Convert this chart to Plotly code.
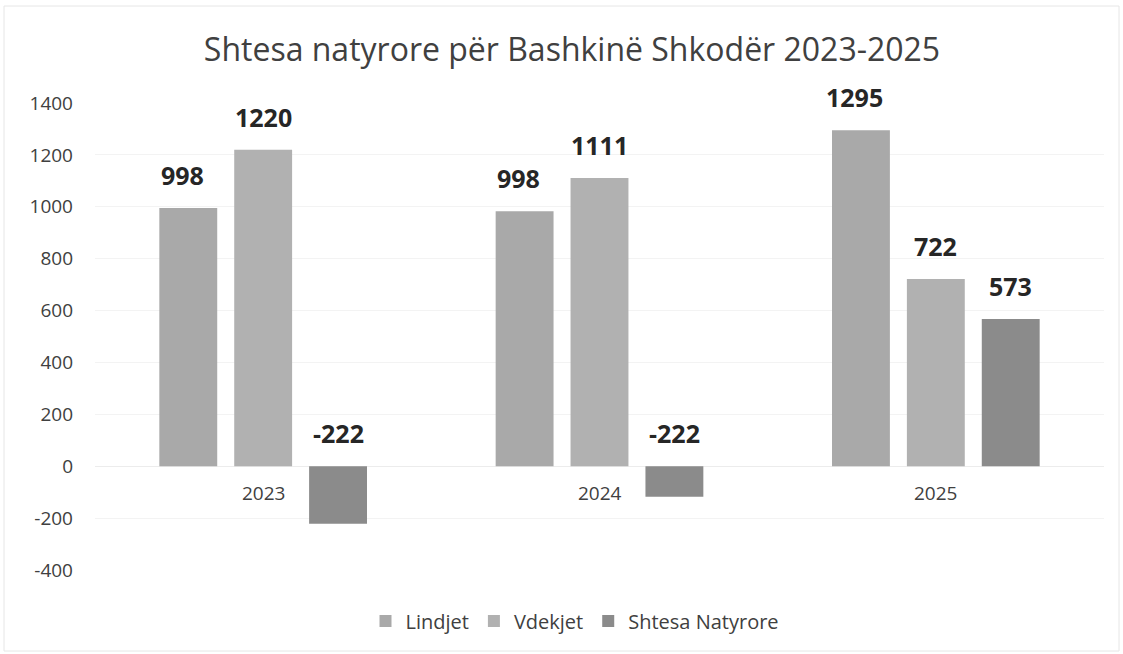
import plotly.graph_objects as go

years = ["2023", "2024", "2025"]
lindjet = [995, 983, 1295]
vdekjet = [1220, 1111, 722]
shtesa = [-222, -118, 567]
lindjet_labels = ["998", "998", "1295"]
vdekjet_labels = ["1220", "1111", "722"]
shtesa_labels = ["-222", "-222", "573"]
y_ticks = [-400, -200, 0, 200, 400, 600, 800, 1000, 1200, 1400]

FONT = "Open Sans"
W, H = 1123, 654
ML, MR, MT, MB = 95, 19, 103, 84
BARGAP = 0.332
GROUPGAP = 0.227

series = [
    ("Lindjet", lindjet, lindjet_labels, "#a9a9a9"),
    ("Vdekjet", vdekjet, vdekjet_labels, "#b1b1b1"),
    ("Shtesa Natyrore", shtesa, shtesa_labels, "#8b8b8b"),
]

fig = go.Figure()
for name, vals, labs, col in series:
    fig.add_trace(go.Bar(name=name, x=years, y=vals, marker=dict(color=col, line=dict(width=0)),
                         hoverinfo="x+y"))

# data labels above bars (or above the zero line for negatives)
group_w = 1 - BARGAP
for si, (name, vals, labs, col) in enumerate(series):
    for ci, (v, lab) in enumerate(zip(vals, labs)):
        xc = ci + (si - 1) * group_w / 3
        fig.add_annotation(x=xc, y=max(v, 0), xref="x", yref="y", text="<b>" + lab + "</b>",
                           showarrow=False, yanchor="bottom", yshift=14,
                           xshift=-6 if si == 0 else 0,
                           font=dict(family=FONT, size=25, color="#262626"))

# category labels next to the zero line
for ci, yr in enumerate(years):
    fig.add_annotation(x=ci, y=0, xref="x", yref="y", text=yr, showarrow=False,
                       yanchor="top", yshift=-12,
                       font=dict(family=FONT, size=19, color="#404040"))

fig.update_layout(
    width=W, height=H,
    margin=dict(l=ML, r=MR, t=MT, b=MB),
    paper_bgcolor="white", plot_bgcolor="white",
    title=dict(text="Shtesa natyrore për Bashkinë Shkodër 2023-2025", x=(572 / W), xanchor="center",
               xref="container", yref="container", y=1 - 50 / H, yanchor="middle",
               font=dict(family=FONT, size=32, color="#404040")),
    barmode="group", bargap=BARGAP, bargroupgap=GROUPGAP,
    showlegend=True,
    legend=dict(orientation="h", x=(575 - ML) / (W - ML - MR), xanchor="center",
                y=-(621 - (H - MB)) / (H - MT - MB),
                yanchor="middle", font=dict(family=FONT, size=20, color="#404040"),
                itemwidth=30, traceorder="normal", bgcolor="rgba(0,0,0,0)"),
    xaxis=dict(type="category", showticklabels=False, showgrid=False, zeroline=False,
               showline=False, ticks="", range=[-0.5, 2.5]),
    yaxis=dict(range=[-400, 1400], tickvals=y_ticks, ticktext=[str(t) for t in y_ticks],
               showgrid=True, gridcolor="#f3f3f3", gridwidth=1, zeroline=True,
               zerolinecolor="#ececec", zerolinewidth=1, showline=False,
               tickfont=dict(family=FONT, size=19, color="#404040"), ticklabelstandoff=21),
)

fig.add_shape(type="rect", xref="paper", yref="paper",
              x0=-(ML - 4) / (W - ML - MR), x1=1 + (MR - 4) / (W - ML - MR),
              y0=-(MB - 3) / (H - MT - MB), y1=1 + (MT - 6) / (H - MT - MB),
              line=dict(color="#e6e6e6", width=1), fillcolor="rgba(0,0,0,0)", layer="below")

fig.write_html("out.html")
